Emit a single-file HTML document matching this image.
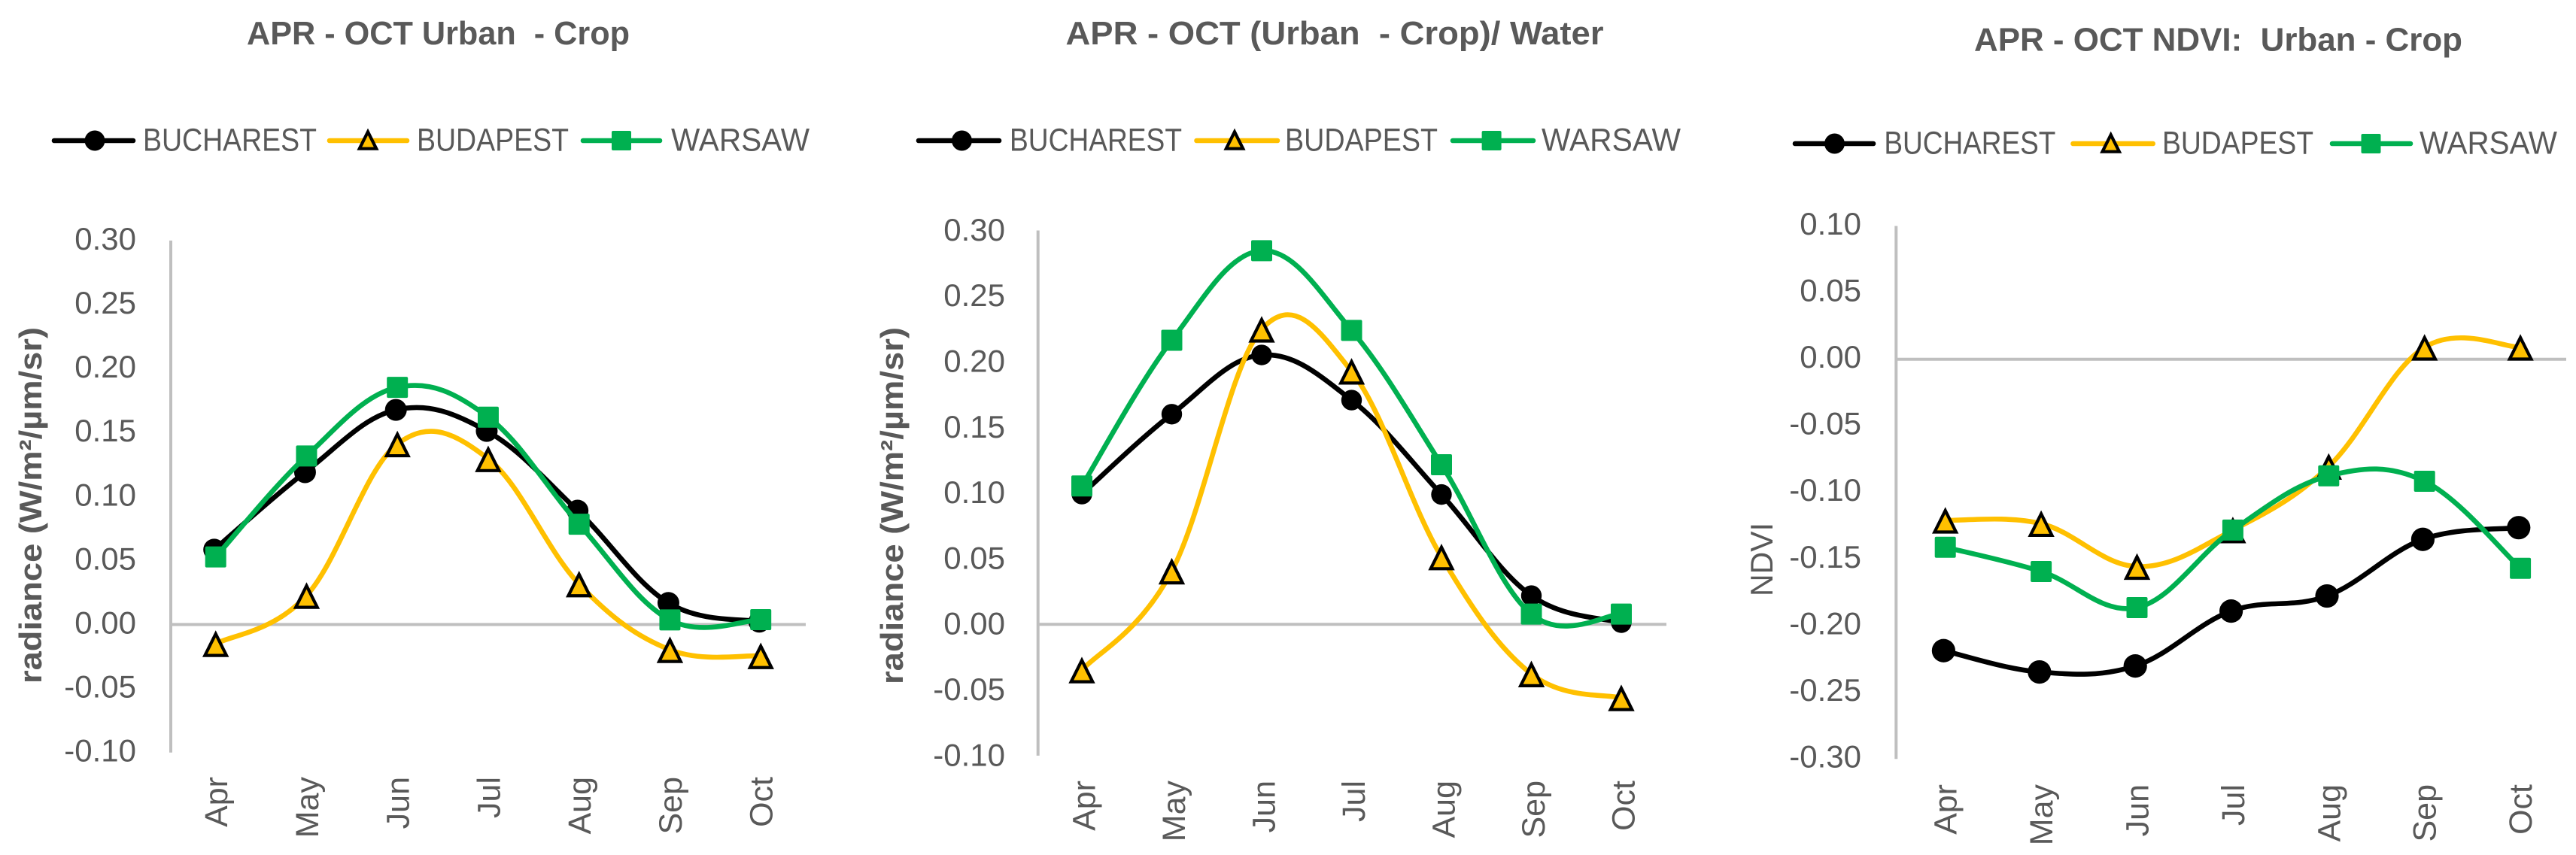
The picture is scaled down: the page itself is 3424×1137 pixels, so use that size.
<!DOCTYPE html>
<html lang="en">
<head>
<meta charset="utf-8">
<title>APR - OCT Urban and Crop charts</title>
<style>
  html, body { margin: 0; padding: 0; background: #ffffff; }
  svg { display: block; }
  text { font-family: "Liberation Sans", sans-serif; fill: #595959; white-space: pre; }
</style>
</head>
<body>
<svg id="figure" xmlns="http://www.w3.org/2000/svg" width="3424" height="1137" viewBox="0 0 3424 1137"></svg>
<script>
const months = ['Apr', 'May', 'Jun', 'Jul', 'Aug', 'Sep', 'Oct'];
const seriesNames = ['BUCHAREST', 'BUDAPEST', 'WARSAW'];

const radianceTicks = ['0.30', '0.25', '0.20', '0.15', '0.10', '0.05', '0.00', '-0.05', '-0.10'];
const ndviTicks = ['0.10', '0.05', '0.00', '-0.05', '-0.10', '-0.15', '-0.20', '-0.25', '-0.30'];

const cropBucharest = [0.0585, 0.119, 0.1677, 0.1512, 0.089, 0.0169, 0.0022];
const cropBudapest = [-0.015, 0.0226, 0.141, 0.1294, 0.0316, -0.0197, -0.0245];
const cropWarsaw = [0.0528, 0.1317, 0.1853, 0.162, 0.0784, 0.0036, 0.0038];

const waterBucharest = [0.0992, 0.1601, 0.2052, 0.1708, 0.0989, 0.0219, 0.0013];
const waterBudapest = [-0.0348, 0.0405, 0.2247, 0.1927, 0.0513, -0.0378, -0.056];
const waterWarsaw = [0.1054, 0.2164, 0.2846, 0.2239, 0.1216, 0.0078, 0.0078];

const ndviBucharest = [-0.2187, -0.2347, -0.2302, -0.189, -0.1777, -0.1352, -0.1264];
const ndviBudapest = [-0.1209, -0.1234, -0.1556, -0.1282, -0.0805, 0.0089, 0.0089];
const ndviWarsaw = [-0.1411, -0.1593, -0.1864, -0.1282, -0.0875, -0.0916, -0.1569];

const SVG_NS = 'http://www.w3.org/2000/svg';
const SMOOTHING = 0.18;
const figure = document.getElementById('figure');

function make(tag, attrs, parent) {
  const el = document.createElementNS(SVG_NS, tag);
  for (const key in attrs) el.setAttribute(key, attrs[key]);
  parent.appendChild(el);
  return el;
}

function smoothPath(pts) {
  let d = 'M' + pts[0][0].toFixed(2) + ' ' + pts[0][1].toFixed(2);
  for (let i = 0; i < pts.length - 1; i++) {
    const p0 = pts[Math.max(i - 1, 0)];
    const p1 = pts[i];
    const p2 = pts[i + 1];
    const p3 = pts[Math.min(i + 2, pts.length - 1)];
    const c1x = p1[0] + (p2[0] - p0[0]) * SMOOTHING;
    const c1y = p1[1] + (p2[1] - p0[1]) * SMOOTHING;
    const c2x = p2[0] - (p3[0] - p1[0]) * SMOOTHING;
    const c2y = p2[1] - (p3[1] - p1[1]) * SMOOTHING;
    d += ' C' + c1x.toFixed(2) + ' ' + c1y.toFixed(2) + ' ' + c2x.toFixed(2) + ' ' + c2y.toFixed(2) + ' ' + p2[0].toFixed(2) + ' ' + p2[1].toFixed(2);
  }
  return d;
}

function drawMarker(kind, cx, cy, size, parent) {
  if (kind === 'circle') {
    return make('circle', { cx: cx, cy: cy, r: size, fill: '#000000' }, parent);
  }
  if (kind === 'square') {
    return make('rect', { x: cx - size, y: cy - size, width: size * 2, height: size * 2, rx: 2, fill: '#00B050' }, parent);
  }
  const top = cy - size * 0.912;
  const base = cy + size * 1.088;
  const points = cx + ',' + top + ' ' + (cx + size) + ',' + base + ' ' + (cx - size) + ',' + base;
  return make('polygon', { points: points, fill: '#FFC000', stroke: '#000000', 'stroke-width': 4.2, 'stroke-linejoin': 'miter' }, parent);
}

function drawPanel(cfg) {
  const panel = make('g', {}, figure);
  
  

  const yOf = function (v) { return cfg.zeroY - (v / 0.05) * cfg.unitY; };
  const xOf = function (i) { return cfg.firstX + i * cfg.stepX; };
  const tickValues = cfg.ticks.map(Number);
  const topY = yOf(Math.max.apply(null, tickValues));
  const bottomY = yOf(Math.min.apply(null, tickValues));

  const title = make('text', { x: cfg.titleX, y: cfg.titleY, 'font-size': 44, 'font-weight': 700, textLength: cfg.titleW, lengthAdjust: 'spacingAndGlyphs' }, panel);
  title.textContent = cfg.title;
  
  

  const yTitle = make('text', {
    transform: 'translate(' + cfg.yTitleX + ' ' + cfg.yTitleBottom + ') rotate(-90)',
    'font-size': 42, 'font-weight': cfg.yTitleWeight, textLength: cfg.yTitleW, lengthAdjust: 'spacingAndGlyphs'
  }, panel);
  yTitle.textContent = cfg.yTitle;
  
  

  const yAxis = make('line', { x1: cfg.axisX, x2: cfg.axisX, y1: topY, y2: bottomY, stroke: '#BFBFBF', 'stroke-width': 4 }, panel);
  
  

  const xAxis = make('line', { x1: cfg.axisX, x2: cfg.rightX, y1: yOf(0), y2: yOf(0), stroke: '#BFBFBF', 'stroke-width': 4 }, panel);
  
  

  cfg.ticks.forEach(function (label) {
    const t = make('text', { x: cfg.tickRight, y: yOf(Number(label)) + cfg.tickDy, 'font-size': 42, 'text-anchor': 'end' }, panel);
    t.textContent = label;
    
    
  });

  months.forEach(function (label, i) {
    const t = make('text', {
      transform: 'translate(' + (xOf(i) + cfg.monthDx) + ' ' + cfg.monthTop + ') rotate(-90)',
      'font-size': 43, 'text-anchor': 'end'
    }, panel);
    t.textContent = label;
    
    
  });

  const kinds = ['circle', 'triangle', 'square'];
  const colors = ['#000000', '#FFC000', '#00B050'];
  const keys = ['bucharest', 'budapest', 'warsaw'];

  cfg.series.forEach(function (values, s) {
    const group = make('g', {}, panel);
    
    
    const dx = s === 0 ? cfg.circleDx : 0;
    const pts = values.map(function (v, i) { return [xOf(i) + dx, yOf(v)]; });
    const line = make('path', { d: smoothPath(pts), fill: 'none', stroke: colors[s], 'stroke-width': 6.6, 'stroke-linecap': 'round' }, group);
    
    
    pts.forEach(function (p) {
      const size = s === 0 ? cfg.circleR : (s === 1 ? 14.3 : 14);
      const marker = drawMarker(kinds[s], p[0], p[1], size, group);
      
      
    });
  });

  cfg.legend.forEach(function (entry, s) {
    const item = make('g', {}, panel);
    
    
    const key = make('line', { x1: entry.x1, x2: entry.x2, y1: cfg.legendY, y2: cfg.legendY, stroke: colors[s], 'stroke-width': 6.6, 'stroke-linecap': 'round' }, item);
    
    
    const sizes = [13.5, 11.2, 13];
    const my = s === 1 ? cfg.legendY - 1.5 : cfg.legendY;
    const glyph = drawMarker(kinds[s], entry.mx, my, sizes[s], item);
    
    
    const label = make('text', { x: entry.tx, y: cfg.legendY + 13.5, 'font-size': 43, textLength: entry.tw, lengthAdjust: 'spacingAndGlyphs' }, item);
    label.textContent = seriesNames[s];
    
    
  });
}

drawPanel({
  name: 'urban-crop-chart',
  title: 'APR - OCT Urban  - Crop', titleX: 328, titleY: 59, titleW: 509,
  yTitle: 'radiance (W/m²/µm/sr)', yTitleX: 55, yTitleBottom: 909, yTitleW: 474, yTitleWeight: 700,
  ticks: radianceTicks, series: [cropBucharest, cropBudapest, cropWarsaw],
  axisX: 227, rightX: 1071, zeroY: 830.5, unitY: 85.1,
  firstX: 286.7, stepX: 120.75, tickRight: 181, tickDy: 12,
  monthDx: 15.5, monthTop: 1033, circleDx: -2, circleR: 14.5, legendY: 187,
  legend: [
    { x1: 72, x2: 177, mx: 126, tx: 190, tw: 231 },
    { x1: 438, x2: 541, mx: 489, tx: 554, tw: 202 },
    { x1: 775, x2: 877, mx: 826, tx: 892, tw: 184 }
  ]
});

drawPanel({
  name: 'urban-crop-water-chart',
  title: 'APR - OCT (Urban  - Crop)/ Water', titleX: 1416.5, titleY: 59, titleW: 715,
  yTitle: 'radiance (W/m²/µm/sr)', yTitleX: 1200, yTitleBottom: 910, yTitleW: 475, yTitleWeight: 700,
  ticks: radianceTicks, series: [waterBucharest, waterBudapest, waterWarsaw],
  axisX: 1379.7, rightX: 2215, zeroY: 830.3, unitY: 87.3,
  firstX: 1438, stepX: 119.5, tickRight: 1336, tickDy: 13.4,
  monthDx: 17.5, monthTop: 1038, circleDx: 0, circleR: 13.7, legendY: 187,
  legend: [
    { x1: 1221, x2: 1328, mx: 1278.5, tx: 1342, tw: 229 },
    { x1: 1590.5, x2: 1698, mx: 1641, tx: 1708, tw: 203 },
    { x1: 1931, x2: 2038, mx: 1982.6, tx: 2049, tw: 185 }
  ]
});

drawPanel({
  name: 'ndvi-chart',
  title: 'APR - OCT NDVI:  Urban - Crop', titleX: 2624, titleY: 67.5, titleW: 649,
  yTitle: 'NDVI', yTitleX: 2356, yTitleBottom: 793, yTitleW: 98, yTitleWeight: 400,
  ticks: ndviTicks, series: [ndviBucharest, ndviBudapest, ndviWarsaw],
  axisX: 2520.3, rightX: 3411, zeroY: 477.7, unitY: 88.6,
  firstX: 2585.7, stepX: 127.4, tickRight: 2474, tickDy: 11.3,
  monthDx: 15, monthTop: 1043, circleDx: -2.3, circleR: 15.6, legendY: 191,
  legend: [
    { x1: 2386, x2: 2490, mx: 2438.5, tx: 2504.4, tw: 228 },
    { x1: 2755.5, x2: 2861.7, mx: 2805.7, tx: 2874, tw: 201 },
    { x1: 3100, x2: 3204, mx: 3151.5, tx: 3216, tw: 183 }
  ]
});
</script>
</body>
</html>
